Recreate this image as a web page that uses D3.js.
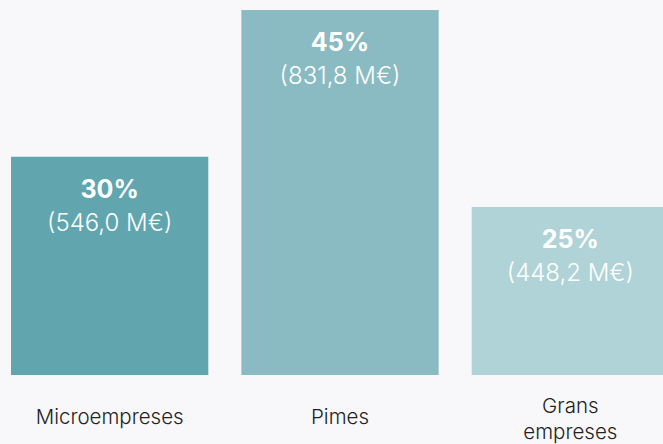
<!DOCTYPE html>
<html>
<head>
<meta charset="utf-8">
<script src="https://cdn.jsdelivr.net/npm/d3@7"></script>
<style>
  html, body { margin: 0; padding: 0; background: #f8f8fa; }
  svg { display: block; overflow: hidden; }
</style>
</head>
<body>
<div class="chart"></div>
<script>
// data
const categories = ['Microempreses', 'Pimes', 'Grans empreses'];
const tickLines = [['Microempreses'], ['Pimes'], ['Grans', 'empreses']];
const amounts = [546.0, 831.8, 448.2];      // M€
const shares = [30, 45, 25];                // %
const colors = ['#61a6ae', '#8abbc2', '#b0d3d7'];

const width = 663, height = 444;

let svg = d3.select('.chart').append('svg')
  .attr('width', width)
  .attr('height', height);

svg.append('rect')
  .attr('width', width)
  .attr('height', height)
  .attr('fill', '#f8f8fa');

// bars run past the right edge like in the original
let x = d3.scaleBand()
  .domain(categories)
  .range([11, 669])
  .paddingInner(0.1435)
  .paddingOuter(0);

// the original does not start its bars at zero
let y = d3.scaleLinear()
  .domain([121, 831.8])
  .range([375, 10]);

let rows = categories.map((c, i) => ({
  cat: c, amount: amounts[i], share: shares[i], color: colors[i], lines: tickLines[i]
}));

svg.selectAll('.bar')
  .data(rows)
  .join('rect')
  .attr('class', 'bar')
  .attr('x', d => x(d.cat))
  .attr('y', d => y(d.amount))
  .attr('width', x.bandwidth())
  .attr('height', d => y.range()[0] - y(d.amount))
  .attr('fill', d => d.color);

let fmt = v => v.toFixed(1).replace('.', ',');

let lab = svg.selectAll('.lab')
  .data(rows)
  .join('g')
  .attr('class', 'lab')
  .attr('transform', d => 'translate(' + (x(d.cat) + x.bandwidth() / 2) + ',' + y(d.amount) + ')')
  .attr('text-anchor', 'middle')
  .attr('fill', '#ffffff')
  .style('font-family', 'Inter, "Noto Sans", sans-serif');

lab.append('text')
  .attr('y', 41)
  .style('font-size', '25px')
  .style('font-weight', 700)
  .text(d => d.share + '%');

lab.append('text')
  .attr('y', 74)
  .style('font-size', '24px')
  .style('font-weight', 300)
  .text(d => '(' + fmt(d.amount) + ' M€)');

// category labels
let ticks = svg.selectAll('.tick')
  .data(rows)
  .join('text')
  .attr('class', 'tick')
  .attr('text-anchor', 'middle')
  .attr('fill', '#222222')
  .style('font-family', 'Inter, "Noto Sans", sans-serif')
  .style('font-size', '20.5px')
  .style('font-weight', 300)
  .attr('transform', d => 'translate(' + (x(d.cat) + x.bandwidth() / 2) + ',' + (424 - (d.lines.length - 1) * 11) + ')');

ticks.selectAll('tspan')
  .data(d => d.lines)
  .join('tspan')
  .attr('x', 0)
  .attr('dy', (d, i) => i === 0 ? 0 : 26)
  .text(d => d);
</script>
</body>
</html>
